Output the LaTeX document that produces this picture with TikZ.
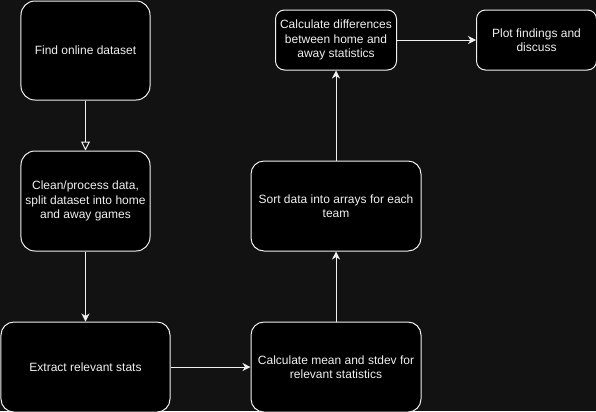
\documentclass[tikz,border=0pt]{standalone}
\usepackage{fontspec}
\setmainfont{Liberation Sans}
\usetikzlibrary{
  positioning,
  arrows.meta
}
\definecolor{bgdark}{HTML}{121212}
\definecolor{strokegray}{HTML}{F0F0F0}
\tikzset{%
  node distance=50bp, % gap between the boxes, changed per node below
  every edge/.style={%
    draw, strokegray, line width=1bp, -{Stealth[length=8bp,width=8bp,inset=2.5bp]}
  },
  stepbox/.style={draw=strokegray, fill=black, text=strokegray, line width=1bp,
    align=center, inner sep=0pt, font=\fontsize{12bp}{14.4bp}\selectfont},
  bigbox/.style={stepbox, rounded corners=14bp, minimum width=129bp, minimum height=99bp},
  widebox/.style={stepbox, rounded corners=13bp, minimum width=170bp, minimum height=90bp},
  smallbox/.style={stepbox, rounded corners=9bp, minimum width=121bp, minimum height=60bp}
}

\begin{document}
\begin{tikzpicture}[x=1bp, y=-1bp]
  \fill[bgdark] (0,0) rectangle (596,411);
  \useasboundingbox (0,0) rectangle (596,411);
  % left column
  \node [bigbox] (find) at (85.5,50.5) {Find online dataset};
  \node [bigbox, minimum height=100bp, below=50bp of find] (clean) {Clean/process data,\\split dataset into home\\and away games};
  \node [widebox, minimum width=169bp, below=70bp of clean] (extract) {Extract relevant stats};
  % right column, going up
  \node [widebox, right=80bp of extract] (mean) {Calculate mean and stdev for\\relevant statistics};
  \node [widebox, above=70bp of mean] (sort) {Sort data into arrays for each\\team};
  \node [smallbox, above=90bp of sort] (diff) {Calculate differences\\between home and\\away statistics};
  \node [smallbox, minimum width=120bp, right=79bp of diff] (plot) {Plot findings and\\discuss};
  \path (find) edge [-{Triangle[open, length=9bp, width=9bp]}] (clean)
        (clean) edge (extract)
        (extract) edge (mean)
        (mean) edge (sort)
        (sort) edge (diff)
        (diff) edge (plot);
\end{tikzpicture}
\end{document}
